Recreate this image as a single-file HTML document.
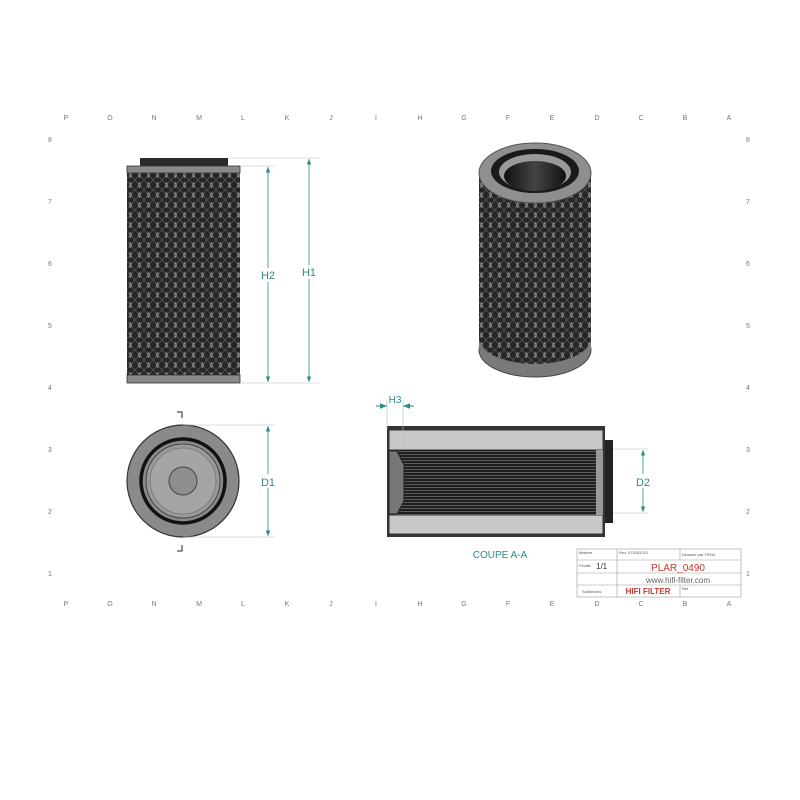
<!DOCTYPE html>
<html><head><meta charset="utf-8"><style>
html,body{margin:0;padding:0;background:#fff;}
svg{display:block;}
text{font-family:"Liberation Sans",sans-serif;}
</style></head><body>
<svg width="800" height="800" viewBox="0 0 800 800" xmlns="http://www.w3.org/2000/svg">
<defs>
<pattern id="mesh" width="9" height="10" patternUnits="userSpaceOnUse">
<rect width="9" height="10" fill="#262626"/>
<ellipse cx="4.5" cy="5" rx="1.5" ry="2.8" fill="#909090"/>
<path d="M0 0 L4.5 5 L9 0 M0 10 L4.5 5 L9 10" stroke="#5a5a5a" stroke-width="0.7" fill="none"/>
</pattern>
<pattern id="flute" width="4" height="3" patternUnits="userSpaceOnUse">
<rect width="4" height="3" fill="#1e1e1e"/>
<rect y="1" width="4" height="0.8" fill="#6a6a6a"/>
</pattern>
<marker id="ar" viewBox="0 0 10 10" refX="10" refY="5" markerWidth="7" markerHeight="9" orient="auto-start-reverse"><path d="M0 1 L10 5 L0 9 Z" fill="#2b8a8a"/></marker>
<linearGradient id="cyl" x1="0" x2="1"><stop offset="0" stop-color="#111"/><stop offset="0.5" stop-color="#444"/><stop offset="1" stop-color="#111"/></linearGradient>
</defs>

<g font-size="7" fill="#777" text-anchor="middle">
<text x="66" y="120">P</text><text x="110" y="120">O</text><text x="154" y="120">N</text><text x="199" y="120">M</text><text x="243" y="120">L</text><text x="287" y="120">K</text><text x="331" y="120">J</text><text x="376" y="120">I</text><text x="420" y="120">H</text><text x="464" y="120">G</text><text x="508" y="120">F</text><text x="552" y="120">E</text><text x="597" y="120">D</text><text x="641" y="120">C</text><text x="685" y="120">B</text><text x="729" y="120">A</text>
<text x="66" y="606">P</text><text x="110" y="606">O</text><text x="154" y="606">N</text><text x="199" y="606">M</text><text x="243" y="606">L</text><text x="287" y="606">K</text><text x="331" y="606">J</text><text x="376" y="606">I</text><text x="420" y="606">H</text><text x="464" y="606">G</text><text x="508" y="606">F</text><text x="552" y="606">E</text><text x="597" y="606">D</text><text x="641" y="606">C</text><text x="685" y="606">B</text><text x="729" y="606">A</text>
<text x="50" y="142">8</text><text x="50" y="204">7</text><text x="50" y="266">6</text><text x="50" y="328">5</text><text x="50" y="390">4</text><text x="50" y="452">3</text><text x="50" y="514">2</text><text x="50" y="576">1</text>
<text x="748" y="142">8</text><text x="748" y="204">7</text><text x="748" y="266">6</text><text x="748" y="328">5</text><text x="748" y="390">4</text><text x="748" y="452">3</text><text x="748" y="514">2</text><text x="748" y="576">1</text>
</g>

<!-- front view -->
<rect x="140" y="158" width="88" height="8" fill="#2a2a2a"/>
<rect x="127" y="166" width="113" height="217" fill="url(#mesh)"/>
<rect x="127" y="166" width="113" height="7" fill="#8a8a8a" stroke="#333" stroke-width="0.8"/>
<rect x="127" y="375" width="113" height="8" fill="#8a8a8a" stroke="#333" stroke-width="0.8"/>
<g stroke="#bbb" stroke-width="0.6">
<line x1="228" y1="158" x2="320" y2="158"/><line x1="240" y1="166" x2="275" y2="166"/><line x1="240" y1="383" x2="320" y2="383"/>
</g>
<g stroke="#2b8a8a" stroke-width="0.8">
<line x1="268" y1="167" x2="268" y2="382" marker-start="url(#ar)" marker-end="url(#ar)"/>
<line x1="309" y1="159" x2="309" y2="382" marker-start="url(#ar)" marker-end="url(#ar)"/>
</g>
<rect x="258" y="268" width="20" height="14" fill="#fff"/><rect x="299" y="265" width="20" height="14" fill="#fff"/>
<text x="268" y="279" font-size="11" fill="#2b8a8a" text-anchor="middle">H2</text>
<text x="309" y="276" font-size="11" fill="#2b8a8a" text-anchor="middle">H1</text>

<!-- 3D view -->
<ellipse cx="535" cy="350" rx="56" ry="27" fill="#7a7a7a" stroke="#444"/>
<rect x="479" y="338" width="112" height="12" fill="#7a7a7a"/>
<ellipse cx="535" cy="338" rx="56" ry="26" fill="url(#mesh)"/>
<rect x="479" y="175" width="112" height="163" fill="url(#mesh)"/>
<ellipse cx="535" cy="173" rx="56" ry="30" fill="#8f8f8f" stroke="#555"/>
<ellipse cx="535" cy="171" rx="44" ry="22" fill="#1a1a1a"/>
<ellipse cx="535" cy="172" rx="36" ry="18" fill="#999"/>
<ellipse cx="535" cy="176" rx="31" ry="15" fill="url(#cyl)"/>

<!-- circle view -->
<circle cx="183" cy="481" r="56" fill="#8a8a8a" stroke="#333" stroke-width="1.2"/>
<circle cx="183" cy="481" r="42" fill="none" stroke="#111" stroke-width="3.5"/>
<circle cx="183" cy="481" r="37" fill="#9a9a9a" stroke="#444"/>
<circle cx="183" cy="481" r="33" fill="#a5a5a5" stroke="#666" stroke-width="0.6"/>
<circle cx="183" cy="481" r="14" fill="#8e8e8e" stroke="#444"/>
<path d="M177 412 H182 V418 M177 551 H182 V545" stroke="#222" fill="none"/>
<g stroke="#bbb" stroke-width="0.6"><line x1="183" y1="425" x2="275" y2="425"/><line x1="183" y1="537" x2="275" y2="537"/></g>
<line x1="268" y1="426" x2="268" y2="536" stroke="#2b8a8a" stroke-width="0.8" marker-start="url(#ar)" marker-end="url(#ar)"/>
<rect x="259" y="474" width="20" height="14" fill="#fff"/>
<text x="268" y="486" font-size="11" fill="#2b8a8a" text-anchor="middle">D1</text>

<!-- section view -->
<rect x="387" y="426" width="218" height="111" fill="#333"/>
<rect x="389" y="430" width="214" height="20" fill="#c8c8c8" stroke="#333"/>
<rect x="389" y="515" width="214" height="19" fill="#c8c8c8" stroke="#333"/>
<rect x="395" y="450" width="208" height="65" fill="url(#flute)"/>
<path d="M389 451 L397 451 L404 465 L404 501 L397 514 L389 514 Z" fill="#777" stroke="#222"/>
<rect x="596" y="450" width="7" height="65" fill="#9a9a9a"/>
<rect x="605" y="440" width="8" height="83" fill="#222"/>
<g stroke="#bbb" stroke-width="0.6">
<line x1="387" y1="400" x2="387" y2="430"/><line x1="403" y1="400" x2="403" y2="450"/>
<line x1="613" y1="449" x2="648" y2="449"/><line x1="613" y1="513" x2="648" y2="513"/>
</g>
<line x1="376" y1="406" x2="387" y2="406" stroke="#2b8a8a" marker-end="url(#ar)"/>
<line x1="414" y1="406" x2="403" y2="406" stroke="#2b8a8a" marker-end="url(#ar)"/>
<text x="395" y="403" font-size="10" fill="#2b8a8a" text-anchor="middle">H3</text>
<line x1="643" y1="450" x2="643" y2="512" stroke="#2b8a8a" stroke-width="0.8" marker-start="url(#ar)" marker-end="url(#ar)"/>
<rect x="634" y="474" width="20" height="14" fill="#fff"/>
<text x="643" y="486" font-size="11" fill="#2b8a8a" text-anchor="middle">D2</text>
<text x="500" y="558" font-size="10" fill="#2b8a8a" text-anchor="middle">COUPE A-A</text>

<!-- title block -->
<g stroke="#999" stroke-width="0.6" fill="none">
<rect x="577" y="549" width="164" height="48"/>
<line x1="577" y1="560" x2="741" y2="560"/><line x1="577" y1="573" x2="741" y2="573"/><line x1="577" y1="585" x2="741" y2="585"/>
<line x1="617" y1="549" x2="617" y2="597"/><line x1="680" y1="549" x2="680" y2="560"/><line x1="680" y1="585" x2="680" y2="597"/>
</g>
<g font-size="4" fill="#555"><text x="579" y="554">Matiere</text><text x="619" y="554">Rev. 07/03/2021</text><text x="682" y="556">Dessiné par   TRHU</text><text x="579" y="567">Feuille</text><text x="582" y="593">Solidworks</text><text x="682" y="590">Ref</text></g>
<text x="596" y="569" font-size="8" fill="#333">1/1</text>
<text x="678" y="571" font-size="10" fill="#c0392b" text-anchor="middle">PLAR_0490</text>
<text x="678" y="583" font-size="8" fill="#666" text-anchor="middle">www.hifi-filter.com</text>
<text x="648" y="594" font-size="8" font-weight="bold" fill="#c0392b" text-anchor="middle">HIFI FILTER</text>
</svg>
</body></html>
